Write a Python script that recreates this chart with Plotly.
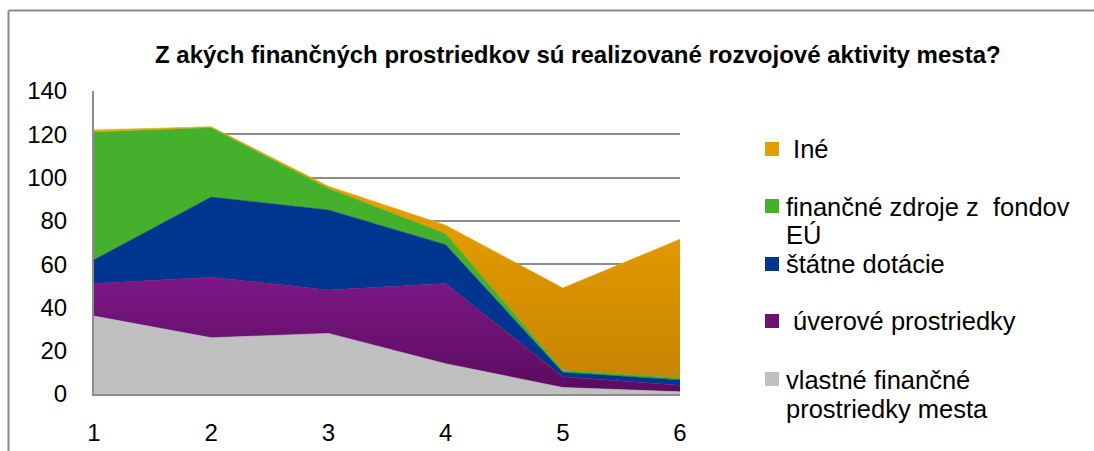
import plotly.graph_objects as go

# ---- data ----
categories = [1, 2, 3, 4, 5, 6]
vlastne = [36, 26, 28, 14, 3, 1]
uverove = [15, 28, 20, 37, 5, 3]
statne = [11, 37, 37, 18, 2, 2.5]
eu = [59, 32, 10, 5, 1, 1]
ine = [1, 0.5, 1, 4, 38, 64]

series_names = ["vlastné finančné prostriedky mesta", " úverové prostriedky",
                "štátne dotácie", "finančné zdroje z  fondov EÚ", " Iné"]
y_ticks = [0, 20, 40, 60, 80, 100, 120, 140]
title_text = "Z akých finančných prostriedkov sú realizované rozvojové aktivity mesta?"

W, H = 1094, 451
L, R, T, B = 94, 680, 91, 394  # plot area pixel box


def px(x):
    return (x - L) / (R - L)


def py(y):
    return (B - y) / (B - T)


FONT = "Arial, Liberation Sans, sans-serif"

fig = go.Figure()

styles = [
    dict(fillcolor="#c0c0c0"),
    dict(fillgradient=dict(type="vertical", colorscale=[[0, "#5a0c5f"], [1, "#7d1886"]])),
    dict(fillcolor="#00368f"),
    dict(fillcolor="#44b02c"),
    dict(fillgradient=dict(type="vertical", colorscale=[[0, "#c98400"], [1, "#f2aa00"]])),
]
line_cols = ["#c0c0c0", "#6a1270", "#00368f", "#44b02c", "#eaa400"]
for vals, name, st, lc in zip([vlastne, uverove, statne, eu, ine], series_names, styles, line_cols):
    fig.add_trace(go.Scatter(
        x=categories, y=vals, name=name, mode="lines",
        stackgroup="one", line=dict(width=0.6, color=lc),
        showlegend=False, hoverinfo="skip", **st))

fig.update_layout(
    width=W, height=H,
    margin=dict(l=L, r=W - R, t=T, b=H - B, pad=0),
    paper_bgcolor="white", plot_bgcolor="white",
    font=dict(family=FONT, color="#000000"),
    xaxis=dict(range=[1, 6], tickvals=categories, ticktext=[str(c) for c in categories],
               showgrid=False, zeroline=False, showline=True, linecolor="#8c8c8c",
               linewidth=2, ticks="", tickfont=dict(size=24, family=FONT),
               ticklabelstandoff=16, automargin=False),
    yaxis=dict(range=[0, 140], tickvals=y_ticks, showgrid=True, gridcolor="#8c8c8c",
               gridwidth=1.5, zeroline=False, showline=True, linecolor="#8c8c8c",
               linewidth=2, ticks="", tickfont=dict(size=24, family=FONT),
               ticklabelstandoff=20, automargin=False),
)

# title
fig.add_annotation(text="<b>" + title_text + "</b>", xref="paper", yref="paper",
                   x=px(578), y=py(55), xanchor="center", yanchor="middle",
                   showarrow=False, font=dict(size=24, family=FONT, color="#000000"))

# outer frame
fig.add_shape(type="line", xref="paper", yref="paper", x0=px(8.5), x1=px(1100),
              y0=py(10.5), y1=py(10.5), line=dict(color="#8a8a8a", width=2))
fig.add_shape(type="line", xref="paper", yref="paper", x0=px(8.5), x1=px(8.5),
              y0=py(10.5), y1=py(460), line=dict(color="#8a8a8a", width=2))

# manual legend
leg_colors = ["#e3a000", "#44b02c", "#00368f", "#6c1273", "#c0c0c0"]
leg_marker_y = [149, 206, 264, 321, 379]
leg_lines = [
    [(" Iné", 149)],
    [("finančné zdroje z\u00a0 fondov", 207), ("EÚ", 235)],
    [("štátne dotácie", 264)],
    [(" úverové prostriedky", 321)],
    [("vlastné finančné", 380), ("prostriedky mesta", 409)],
]
for col, my, lines in zip(leg_colors, leg_marker_y, leg_lines):
    fig.add_shape(type="rect", xref="paper", yref="paper",
                  x0=px(765), x1=px(779), y0=py(my - 7), y1=py(my + 7),
                  fillcolor=col, line=dict(width=0))
    for txt, ly in lines:
        fig.add_annotation(text=txt.replace(" ", "\u00a0") if txt.startswith(" ") else txt,
                           xref="paper", yref="paper", x=px(784), y=py(ly),
                           xanchor="left", yanchor="middle", showarrow=False,
                           font=dict(size=25.5, family=FONT, color="#000000"))

fig.write_html("out.html", config={"displayModeBar": False},
               post_script="document.body.style.margin='0';document.body.style.overflow='hidden';")
